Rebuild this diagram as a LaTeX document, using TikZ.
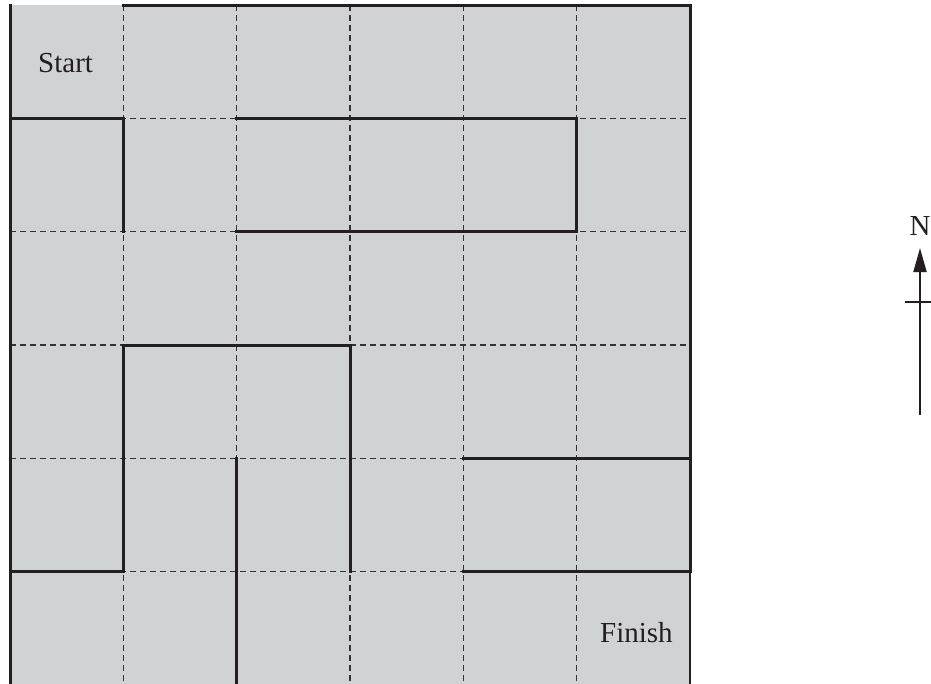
\documentclass[tikz,border=0pt]{standalone}
\usepackage{fontspec}
\setmainfont{Liberation Serif}
\usetikzlibrary{arrows.meta}
\definecolor{cellgray}{HTML}{D1D2D4}
\definecolor{wallc}{HTML}{231F20}
\definecolor{gridc}{HTML}{333333}
\tikzset{
  wall/.style={draw=wallc, line width=3pt, line cap=rect, line join=miter},
  gridline/.style={draw=gridc, line width=1.2pt, dash pattern=on 6pt off 4pt},
  lbl/.style={font=\fontsize{29}{34}\selectfont, text=wallc, inner sep=0pt, anchor=base west},
}
\begin{document}
\begin{tikzpicture}[x=1pt,y=-1pt]
\useasboundingbox (0,0) rectangle (931,683);
\def\cw{113.333}
% background
\fill[cellgray] (10,5) rectangle (690,690);
% dashed grid
\foreach \i in {1,...,5}{
  \draw[gridline] ({10+\i*\cw},5) -- ({10+\i*\cw},690);
  \draw[gridline] (10,{5+\i*\cw}) -- (690,{5+\i*\cw});
}
% walls
\newcommand{\px}[1]{{10+#1*\cw}}
\newcommand{\py}[1]{{5+#1*\cw}}
\draw[wall] (\px{1},\py{0}) -- (\px{6},\py{0}) -- (\px{6},\py{5});
\draw[draw=wallc, line width=2pt] (\px{6},\py{5}) -- (\px{6},690);
\draw[wall] (\px{0},\py{0}) -- (\px{0},690);
\draw[wall] (\px{0},\py{1}) -- (\px{1},\py{1}) -- (\px{1},\py{2});
\draw[wall] (\px{2},\py{1}) -- (\px{5},\py{1}) -- (\px{5},\py{2}) -- (\px{2},\py{2});
\draw[wall] (\px{0},\py{5}) -- (\px{1},\py{5}) -- (\px{1},\py{3}) -- (\px{3},\py{3}) -- (\px{3},\py{5});
\draw[wall] (\px{2},\py{4}) -- (\px{2},690);
\draw[wall] (\px{4},\py{4}) -- (\px{6},\py{4});
\draw[wall] (\px{4},\py{5}) -- (\px{6},\py{5});
% labels
\node[lbl] (start) at (38,72.7) {Start};
\node[lbl] (finish) at (600,642.7) {Finish};
% compass
\node[lbl, anchor=base] (north) at (920,235) {N};
\coordinate (ntip) at (920,248);
\coordinate (nbase) at (920,415);
\coordinate (cbl) at (905,302);
\coordinate (cbr) at (937,302);
\draw[draw=wallc, line width=2pt, -{Triangle[length=24pt,width=13pt]}] (nbase) -- (ntip);
\draw[draw=wallc, line width=2pt] (cbl) -- (cbr);
\end{tikzpicture}
\end{document}
